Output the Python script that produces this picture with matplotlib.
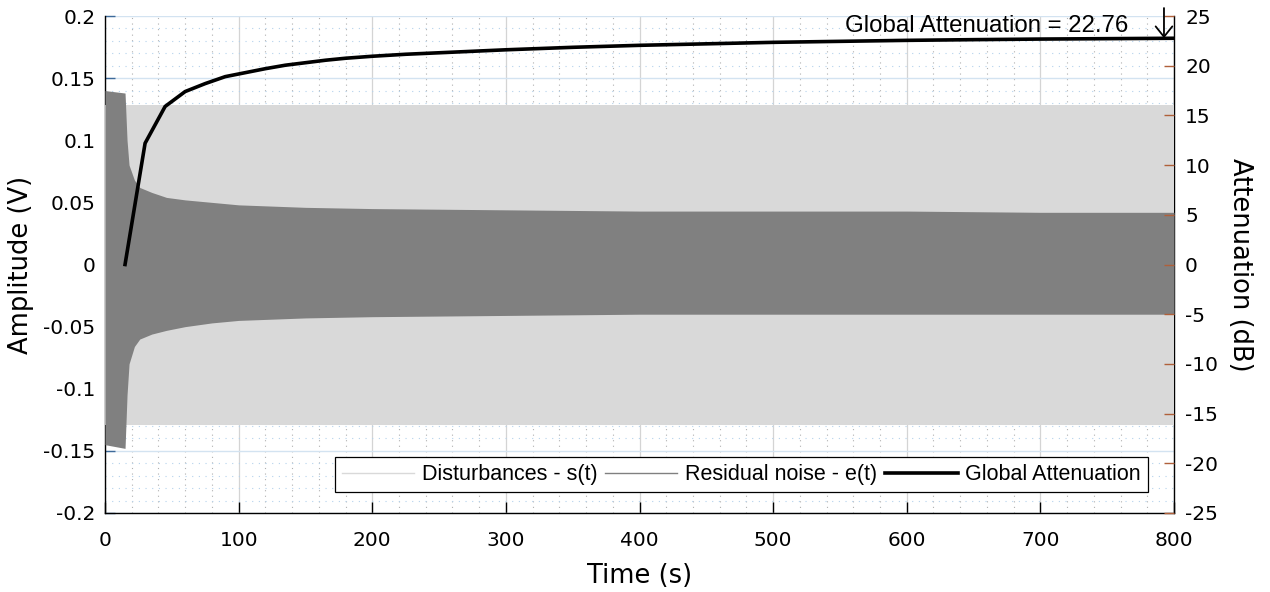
import matplotlib
matplotlib.use("Agg")
import matplotlib.pyplot as plt
import numpy as np
from matplotlib.ticker import MultipleLocator, FuncFormatter

plt.rcParams['axes.unicode_minus'] = False

# ---- data ----
# envelope knots (s)
env_t = [0, 15, 16.5, 18, 22, 26, 35, 46, 60, 80, 100, 150, 200, 300, 400, 500, 600, 700, 800]
# disturbance s(t) envelope (V)
s_upper = [0.128] * len(env_t)
s_lower = [-0.129] * len(env_t)
# residual noise e(t) envelope (V)
e_upper = [0.140, 0.138, 0.100, 0.080, 0.068, 0.062, 0.058, 0.054, 0.052, 0.050, 0.048,
           0.046, 0.045, 0.044, 0.043, 0.043, 0.043, 0.042, 0.042]
e_lower = [-0.145, -0.148, -0.105, -0.080, -0.066, -0.060, -0.056, -0.053, -0.050, -0.047,
           -0.045, -0.043, -0.042, -0.041, -0.040, -0.040, -0.040, -0.040, -0.040]

# global attenuation curve (dB)
att_t = [15, 30, 45, 60, 75, 90, 105, 120, 135, 150, 165, 180, 200, 225, 250, 275, 300,
         350, 400, 450, 500, 550, 600, 650, 700, 750, 800]
att_db = [0, 12.2, 15.9, 17.4, 18.2, 18.9, 19.3, 19.7, 20.05, 20.3, 20.55, 20.75, 20.95,
          21.15, 21.3, 21.45, 21.6, 21.85, 22.05, 22.2, 22.35, 22.45, 22.55, 22.62, 22.68,
          22.72, 22.76]
global_att = 22.76

x_ticks = [0, 100, 200, 300, 400, 500, 600, 700, 800]
left_ticks = [-0.2, -0.15, -0.1, -0.05, 0, 0.05, 0.1, 0.15, 0.2]
right_ticks = [-25, -20, -15, -10, -5, 0, 5, 10, 15, 20, 25]

# ---- figure ----
fig = plt.figure(figsize=(12.7, 5.92), dpi=100)
ax = fig.add_axes([105/1270, 1 - 513/592, (1174-105)/1270, (513-16)/592])

tick_font = 'DejaVu Sans'
label_font = 'DejaVu Sans'
text_font = 'Liberation Sans'

light = '#d9d9d9'
dark = '#808080'

ax.fill_between(env_t, s_lower, s_upper, color=light, lw=0, zorder=1)
ax.fill_between(env_t, e_lower, e_upper, color=dark, lw=0, zorder=1.1)

ax.set_xlim(0, 800)
ax.set_ylim(-0.2, 0.2)
ax.set_xticks(x_ticks)
ax.set_yticks(left_ticks)
ax.xaxis.set_minor_locator(MultipleLocator(20))
ax.yaxis.set_minor_locator(MultipleLocator(0.01))
ax.yaxis.set_major_formatter(FuncFormatter(lambda v, p: ('%g' % round(v, 3))))

ax.set_axisbelow(True)
ax.grid(which='major', axis='x', color='#d4d4d4', lw=0.9, ls='-')
ax.grid(which='minor', axis='x', color='#b0b0b0', lw=0.8, ls=(0, (1, 4)))
ax.grid(which='major', axis='y', color='#d3e3f1', lw=1.0, ls='-')
ax.grid(which='minor', axis='y', color='#b4d2ec', lw=0.8, ls=(0, (1, 5)))

ax.spines['top'].set_visible(False)
for s in ['left', 'bottom', 'right']:
    ax.spines[s].set_color('black')
    ax.spines[s].set_linewidth(1.0)
    ax.spines[s].set_zorder(0.9)

ax.tick_params(axis='x', which='major', direction='in', length=8, width=1, color='black',
               labelsize=14.5, pad=13)
ax.tick_params(axis='y', which='major', direction='in', length=7, width=1, color='#3d6a9a',
               labelsize=14.5, pad=7)
ax.tick_params(which='minor', length=0)
for lab in ax.get_xticklabels() + ax.get_yticklabels():
    lab.set_fontfamily(tick_font)

ax.set_xlabel('Time (s)', fontsize=18.5, family=label_font)
ax.set_ylabel('Amplitude (V)', fontsize=18.5, family=label_font)
ax.xaxis.set_label_coords(0.5, -0.1)
ax.yaxis.set_label_coords(-0.066, 0.5)

ax2 = ax.twinx()
ax2.set_ylim(-25, 25)
ax2.set_yticks(right_ticks)
for s in ax2.spines.values():
    s.set_visible(False)
ax2.plot(att_t, att_db, color='black', lw=2.6, solid_joinstyle='miter', zorder=3)
ax2.tick_params(axis='y', which='major', direction='in', length=7, width=1, color='#b0603a',
                labelsize=14.5, pad=8)
for lab in ax2.get_yticklabels():
    lab.set_fontfamily(tick_font)
ax2.set_ylabel('Attenuation (dB)', fontsize=18.5, family=label_font, rotation=270, va='center')
ax2.yaxis.set_label_coords(1.0617, 0.5)

# legend handles
h1, = ax2.plot([], [], color=light, lw=1.0)
h2, = ax2.plot([], [], color=dark, lw=1.0)
h3, = ax2.plot([], [], color='black', lw=2.6)
leg = ax2.legend([h1, h2, h3],
                 ['Disturbances - s(t)', 'Residual noise - e(t)', 'Global Attenuation'],
                 ncol=3, loc='lower right', bbox_to_anchor=(1 - 26/1069, 21/497),
                 borderaxespad=0, frameon=True, fancybox=False, framealpha=1,
                 edgecolor='black', handlelength=3.35, handletextpad=0.37,
                 columnspacing=0.37, borderpad=0.32,
                 prop={'family': text_font, 'size': 15.5})
leg.get_frame().set_linewidth(0.9)

# annotation
fig.text(986.5/1270, 1 - 32/592, 'Global Attenuation = %.2f' % global_att,
         ha='center', va='baseline', fontsize=17.3, family=text_font)
ax2.annotate('', xy=(792.5, global_att), xytext=(792.5, 25.8),
             arrowprops=dict(arrowstyle='->,head_length=0.75,head_width=0.6', lw=1.3,
                             color='black', shrinkA=0, shrinkB=0, mutation_scale=10),
             annotation_clip=False)

fig.savefig('out.png', dpi=100)
